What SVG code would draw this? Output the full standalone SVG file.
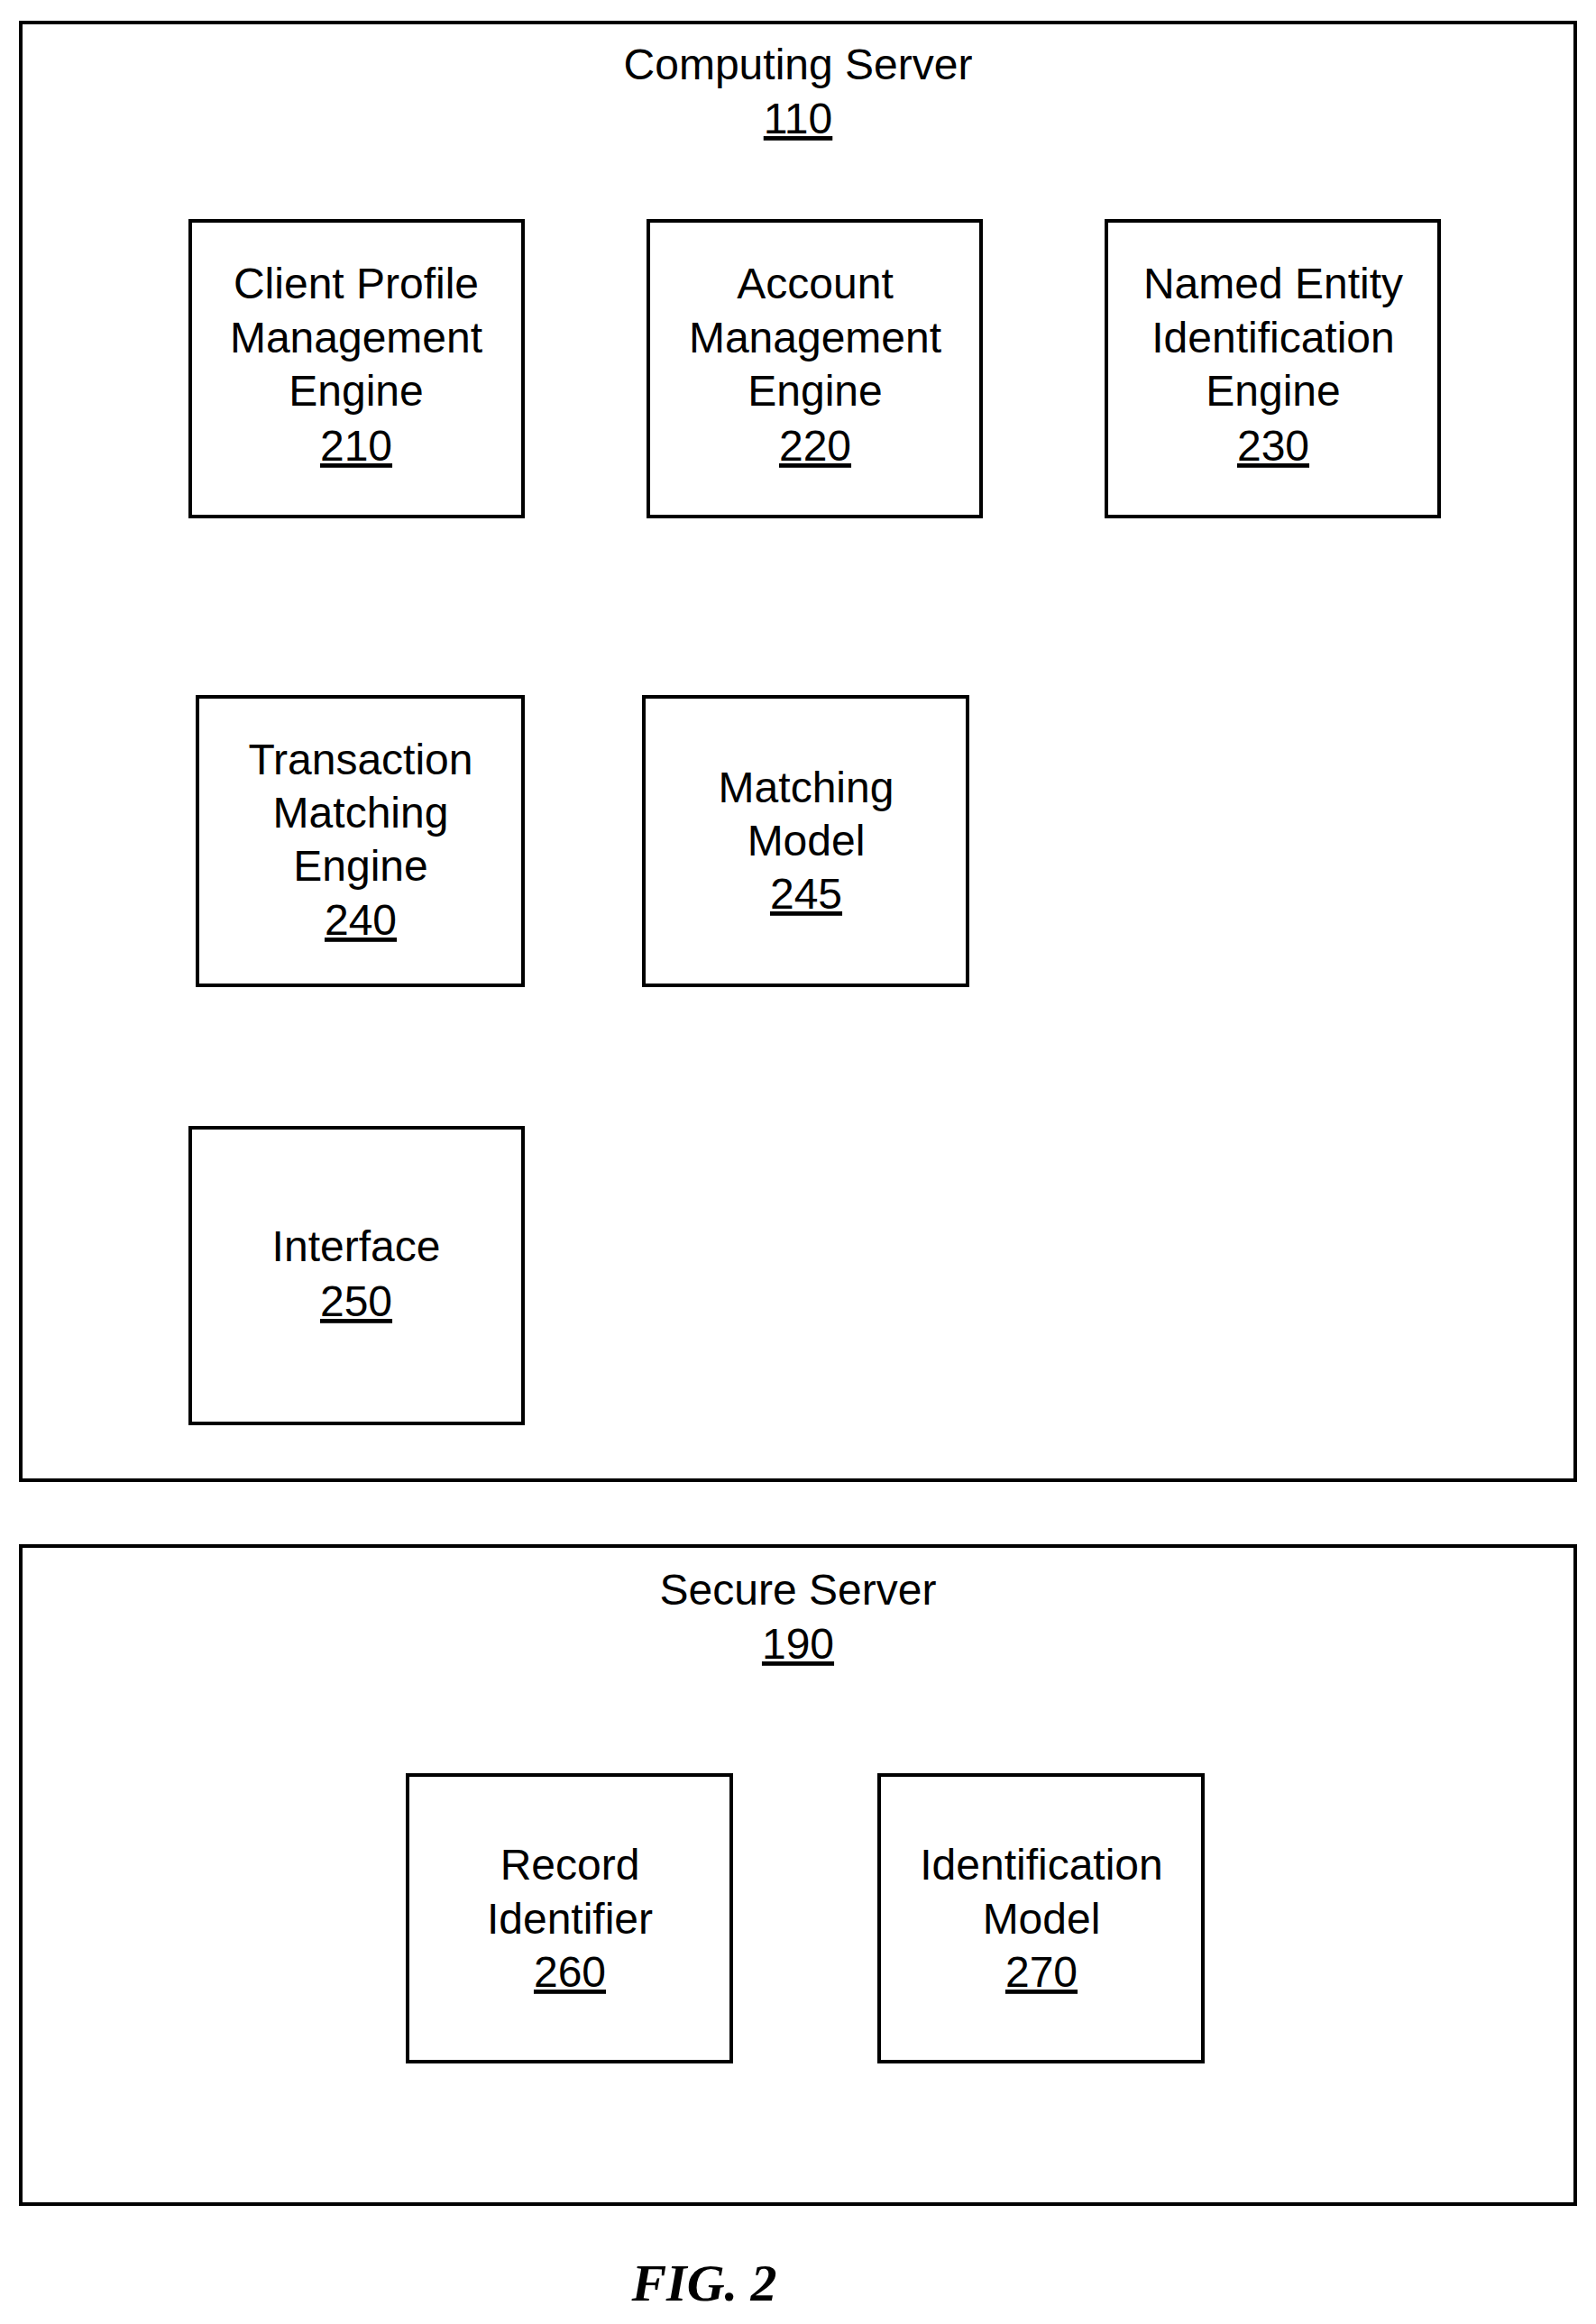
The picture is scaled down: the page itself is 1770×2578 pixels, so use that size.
<svg xmlns="http://www.w3.org/2000/svg" width="1770" height="2578" viewBox="0 0 1770 2578">
<style>
rect{fill:#fff;stroke:#000;stroke-width:4}
text{font-family:"Liberation Sans",Arial,sans-serif;font-size:48px;text-anchor:middle;fill:#000}
.u{text-decoration:underline}
.fig{font-family:"Liberation Serif","Times New Roman",serif;font-weight:bold;font-style:italic;font-size:58px}
</style>
<rect width="1770" height="2578" style="stroke:none"/>
<g transform="translate(3,4)">
<g id="computing-server">
<rect x="20" y="21" width="1724" height="1617"/>
<text x="882" y="84">Computing Server</text>
<text x="882" y="144" class="u">110</text>
</g>
<g id="n210"><rect x="208" y="241" width="369" height="328"/>
<text x="392" y="327">Client Profile</text><text x="392" y="387">Management</text><text x="392" y="446">Engine</text><text x="392" y="507" class="u">210</text></g>
<g id="n220"><rect x="716" y="241" width="369" height="328"/>
<text x="901" y="327">Account</text><text x="901" y="387">Management</text><text x="901" y="446">Engine</text><text x="901" y="507" class="u">220</text></g>
<g id="n230"><rect x="1224" y="241" width="369" height="328"/>
<text x="1409" y="327">Named Entity</text><text x="1409" y="387">Identification</text><text x="1409" y="446">Engine</text><text x="1409" y="507" class="u">230</text></g>
<g id="n240"><rect x="216" y="769" width="361" height="320"/>
<text x="397" y="855">Transaction</text><text x="397" y="914">Matching</text><text x="397" y="973">Engine</text><text x="397" y="1033" class="u">240</text></g>
<g id="n245"><rect x="711" y="769" width="359" height="320"/>
<text x="891" y="886">Matching</text><text x="891" y="945">Model</text><text x="891" y="1004" class="u">245</text></g>
<g id="n250"><rect x="208" y="1247" width="369" height="328"/>
<text x="392" y="1395">Interface</text><text x="392" y="1456" class="u">250</text></g>
<g id="secure-server">
<rect x="20" y="1711" width="1724" height="730"/>
<text x="882" y="1776">Secure Server</text>
<text x="882" y="1836" class="u">190</text>
</g>
<g id="n260"><rect x="449" y="1965" width="359" height="318"/>
<text x="629" y="2081">Record</text><text x="629" y="2141">Identifier</text><text x="629" y="2200" class="u">260</text></g>
<g id="n270"><rect x="972" y="1965" width="359" height="318"/>
<text x="1152" y="2081">Identification</text><text x="1152" y="2141">Model</text><text x="1152" y="2200" class="u">270</text></g>
<g id="connectors"/>
<text x="778" y="2548" class="fig">FIG. 2</text>
</g>
</svg>
